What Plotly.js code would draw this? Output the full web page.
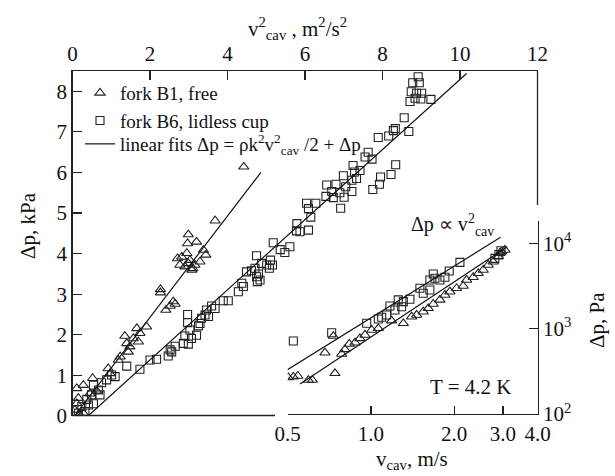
<!DOCTYPE html>
<html><head><meta charset="utf-8">
<script src="https://cdn.plot.ly/plotly-3.0.1.min.js"></script>
<style>html,body{margin:0;padding:0;background:#fff}</style>
</head><body><div id="chart" style="width:615px;height:476px"></div>
<script>
// ---- main plot: fork B1 (triangles), v_cav^2 [m2/s2] vs dp [kPa]
const mainB1_v2 = [4.42,3.68,2.99,3.20,2.97,3.38,2.71,2.82,2.95,3.03,2.77,2.90,3.08,3.16,3.29,3.44,2.99,3.10,2.27,2.27,2.60,2.52,2.41,2.65,1.91,1.66,1.74,1.35,1.57,1.70,1.40,1.48,1.44,1.23,1.18,0.92,0.97,0.52,0.28,0.11,0.15,0.11,0.06,0.19,0.28,0.45,0.62];
const mainB1_dp = [6.14,4.81,4.47,4.29,4.25,4.09,3.88,3.92,4.01,3.84,3.72,3.68,3.60,3.72,3.80,3.97,3.76,3.64,3.12,3.04,2.82,2.71,2.61,2.76,2.20,2.16,2.04,1.97,1.91,1.83,1.79,1.71,1.58,1.46,1.38,1.17,1.05,0.93,0.76,0.68,0.44,0.31,0.15,0.02,0.07,0.55,0.62];
// ---- main plot: fork B6 (squares)
const mainB6_v2 = [4.75,5.18,5.36,5.61,5.48,4.88,5.01,5.11,4.49,4.62,4.71,4.80,4.84,4.77,4.37,4.41,4.28,4.75,5.08,5.16,5.78,5.87,6.09,6.09,3.89,4.02,3.59,3.68,3.46,3.42,3.33,3.51,3.29,3.25,2.97,2.97,3.03,3.20,3.07,2.90,2.86,2.99,2.65,2.52,2.56,2.47,2.17,2.00,1.74,1.40,1.01,1.10,0.88,0.75,0.54,0.67,0.49,0.37,0.41,0.24,0.54,0.32,0.15,0.71,
  8.92,8.78,8.95,8.74,8.88,9.01,8.71,8.84,8.99,9.25,8.56,8.68,8.33,8.28,8.16,7.89,7.63,7.55,7.73,8.34,8.22,7.95,7.92,7.75,7.24,7.28,7.42,6.99,7.21,7.33,6.56,6.80,7.05,6.69,6.90,6.54,6.73,7.01,7.21,6.92,6.04,6.28,6.15,5.79];
const mainB6_dp = [3.95,4.27,4.10,4.17,4.03,3.76,3.72,3.84,3.55,3.58,3.64,3.50,3.35,3.31,3.27,3.19,3.06,3.43,3.64,3.72,4.56,4.54,5.11,4.58,2.84,2.84,2.71,2.65,2.61,2.49,2.41,2.45,2.28,2.22,2.50,2.30,2.12,1.99,1.91,1.97,1.79,1.77,1.72,1.63,1.58,1.48,1.40,1.38,1.15,1.23,1.01,0.97,0.89,0.82,0.76,0.64,0.52,0.41,0.27,0.23,0.30,0.11,0.07,0.52,
  8.36,8.21,8.21,7.99,7.95,7.95,7.75,7.83,7.81,7.80,7.35,7.01,7.08,7.03,6.90,6.86,6.50,6.38,6.33,6.19,5.95,5.89,5.71,5.58,6.17,6.01,6.05,5.92,5.81,5.85,5.69,5.71,5.65,5.53,5.50,5.41,5.38,5.39,5.53,5.12,5.24,5.24,4.90,4.74];
// ---- linear fits (main)
const fitB1_v2 = [0.05, 4.86];
const fitB1_dp = [0, 6.0];
const fitB6_v2 = [0.4, 10.17];
const fitB6_dp = [0, 8.44];
// ---- inset: v_cav [m/s] vs dp [Pa], log-log
const insB6_v  = [0.524,0.721,0.965,1.063,1.093,1.139,1.171,1.221,1.291,1.309,1.383,1.255,1.503,1.545,1.633,1.633,1.703,1.775,1.851,1.679,1.918,2.097,2.805,2.90,2.95];
const insB6_dp = [718,897,1156,1300,1361,1449,1845,1656,1811,2075,2212,2175,2977,2601,2844,3727,3900,3727,4010,4375,4745,5996,6680,7400,8200];
const insB1_v  = [0.502,0.524,0.544,0.594,0.614,0.741,0.682,0.731,0.784,0.805,0.835,0.876,0.912,0.951,1.006,1.063,1.187,1.309,1.403,1.463,1.545,1.611,1.679,1.775,1.851,1.929,2.040,2.155,2.217,2.343,2.443,2.546,2.654,2.766,2.883,2.966,3.049,2.924];
const insB1_dp = [269,273,279,250,250,300,523,820,505,573,662,685,771,844,966,1011,1242,1156,1383,1449,1582,1734,1949,2175,2483,2716,2977,3168,3727,4010,4460,4875,5580,6100,6980,8000,8380,7660];
const insFitB6_v  = [0.482, 2.94];
const insFitB6_dp = [308, 11770];
const insFitB1_v  = [0.554, 3.11];
const insFitB1_dp = [225, 9140];

const W = 615, H = 476;
const px = v => v / W, py = v => (H - v) / H;
const FONT = 'Liberation Serif, Times New Roman, serif';
const INK = '#222';
const tri = {symbol:'triangle-up-open', size:9, color:INK, line:{width:1.1, color:INK}};
const sq  = {symbol:'square-open', size:8, color:INK, line:{width:1.1, color:INK}};
const ln  = {color:'#111', width:1.2};

const traces = [
  {x:mainB1_v2, y:mainB1_dp, mode:'markers', marker:tri, name:'fork B1, free', xaxis:'x', yaxis:'y', legend:'legend'},
  {x:mainB6_v2, y:mainB6_dp, mode:'markers', marker:sq, name:'fork B6, lidless cup', xaxis:'x', yaxis:'y', legend:'legend'},
  {x:fitB1_v2, y:fitB1_dp, mode:'lines', line:ln, name:'linear fits Δp = ρk<sup>2</sup>v<sup>2</sup><sub>cav</sub> /2 + Δp', xaxis:'x', yaxis:'y', legend:'legend2'},
  {x:fitB6_v2, y:fitB6_dp, mode:'lines', line:ln, showlegend:false, xaxis:'x', yaxis:'y'},
  {x:insB6_v, y:insB6_dp, mode:'markers', marker:sq, showlegend:false, xaxis:'x2', yaxis:'y2'},
  {x:insB1_v, y:insB1_dp, mode:'markers', marker:tri, showlegend:false, xaxis:'x2', yaxis:'y2'},
  {x:insFitB6_v, y:insFitB6_dp, mode:'lines', line:ln, showlegend:false, xaxis:'x2', yaxis:'y2'},
  {x:insFitB1_v, y:insFitB1_dp, mode:'lines', line:ln, showlegend:false, xaxis:'x2', yaxis:'y2'}
];

const axBase = {showgrid:false, zeroline:false, showline:true, linecolor:INK, linewidth:1.3,
  ticks:'inside', ticklen:9, tickcolor:INK, tickwidth:1.2, tickfont:{family:FONT, size:21, color:'#111'}};

const ann = (x, y, text, extra) => Object.assign({xref:'paper', yref:'paper', x:px(x), y:py(y), text:text,
  showarrow:false, xanchor:'center', yanchor:'middle', font:{family:FONT, size:21, color:'#111'}}, extra || {});

const layout = {
  width:W, height:H, margin:{l:0,r:0,t:0,b:0}, paper_bgcolor:'#fff', plot_bgcolor:'rgba(0,0,0,0)',
  font:{family:FONT, color:'#111'},
  xaxis: Object.assign({}, axBase, {domain:[px(72.5), px(537.5)], range:[0,12], side:'top', tickvals:[0,2,4,6,8,10,12], anchor:'y'}),
  yaxis: Object.assign({}, axBase, {domain:[py(416), py(71)], range:[0,8.5], tickvals:[0,1,2,3,4,5,6,7,8], anchor:'x'}),
  xaxis2: Object.assign({}, axBase, {domain:[px(287.7), px(537.5)], type:'log', range:[Math.log10(0.5), Math.log10(4.0)],
    tickvals:[0.5,1,2,3,4], ticktext:['0.5','1.0','2.0','3.0','4.0'], anchor:'y2', ticklen:8}),
  yaxis2: Object.assign({}, axBase, {domain:[py(414), py(220.7)], type:'log', range:[2, 4.266], side:'right',
    tickvals:[100,1000,10000], ticktext:['10<sup>2</sup>','10<sup>3</sup>','10<sup>4</sup>'], anchor:'x2'}),
  legend:{x:px(80), y:py(74), xanchor:'left', yanchor:'top', bgcolor:'rgba(0,0,0,0)', borderwidth:0,
    font:{family:FONT, size:19, color:'#111'}, tracegroupgap:0},
  legend2:{x:px(80), y:py(125), xanchor:'left', yanchor:'top', bgcolor:'rgba(0,0,0,0)', borderwidth:0,
    font:{family:FONT, size:19, color:'#111'}},
  shapes:[
    {type:'line', xref:'paper', yref:'paper', x0:px(72.5), x1:px(275), y0:py(415.5), y1:py(415.5), line:{color:INK, width:1.3}},
    {type:'line', xref:'paper', yref:'paper', x0:px(537.5), x1:px(537.5), y0:py(71), y1:py(205), line:{color:INK, width:1.3}}
  ],
  annotations:[
    ann(297, 28, 'v<sup>2</sup><sub>cav</sub> , m<sup>2</sup>/s<sup>2</sup>'),
    ann(28, 226, 'Δp, kPa', {textangle:-90}),
    ann(412, 460, 'v<sub>cav</sub>, m/s'),
    ann(597, 320, 'Δp, Pa', {textangle:-90}),
    ann(452, 225, 'Δp ∝ v<sup>2</sup><sub>cav</sub>', {font:{family:FONT, size:20, color:'#111'}}),
    ann(470, 387, 'T = 4.2 K')
  ]
};

Plotly.newPlot('chart', traces, layout, {staticPlot:true, displayModeBar:false});
</script></body></html>
